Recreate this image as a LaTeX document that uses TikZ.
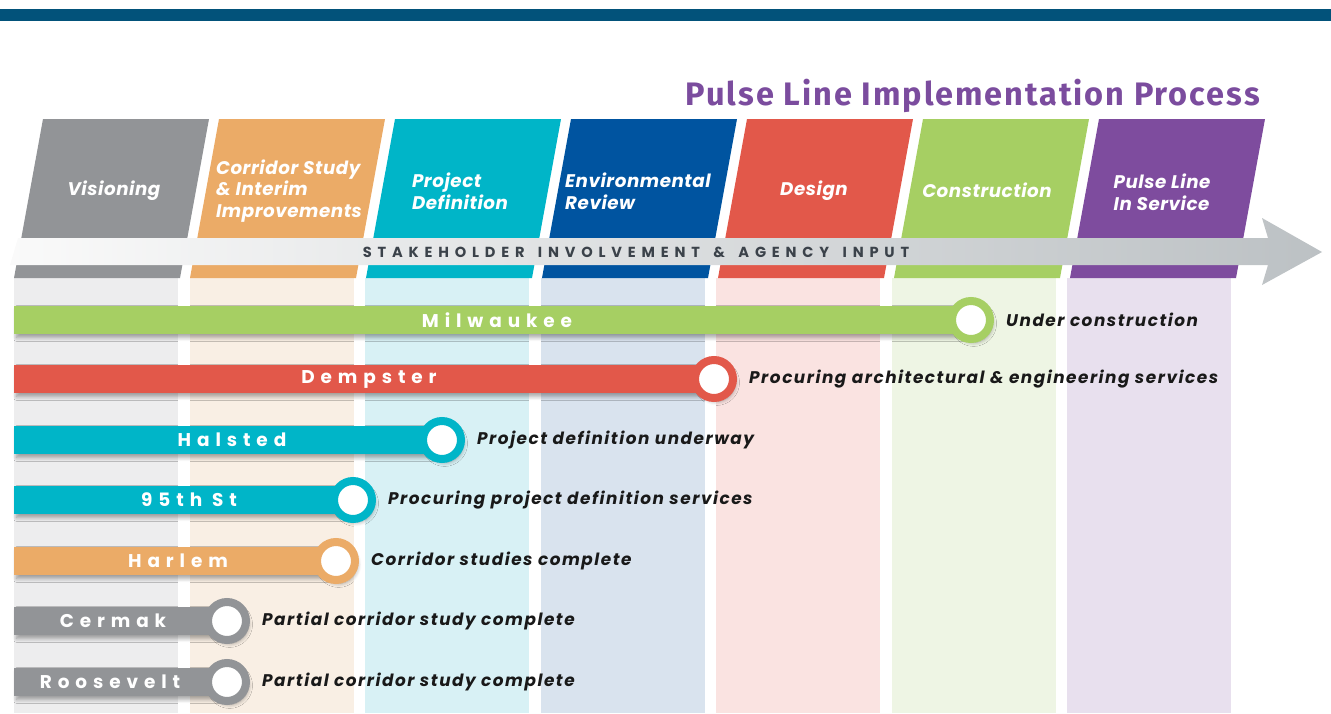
\documentclass[tikz,border=0pt]{standalone}
\usepackage{fontspec}
\usepackage{tikz}
\usetikzlibrary{positioning,shadows.blur}
\setmainfont{Poppins}
\newfontfamily\titlefont[LetterSpace=6]{Fira Sans}
\newfontfamily\barfont[LetterSpace=32]{Poppins}
\newfontfamily\bandfont[LetterSpace=40,WordSpace=1.5]{Poppins}
\newfontfamily\phasefont[LetterSpace=3]{Poppins}
\newfontfamily\statusfont[LetterSpace=9]{Poppins}

\definecolor{topbar}{HTML}{02527A}
\definecolor{ptitle}{HTML}{7B4C9E}
\definecolor{pgrey}{HTML}{929497}
\definecolor{porange}{HTML}{EBAB67}
\definecolor{pcyan}{HTML}{00B5C8}
\definecolor{pblue}{HTML}{0054A0}
\definecolor{pred}{HTML}{E2584A}
\definecolor{pgreen}{HTML}{A6CF63}
\definecolor{ppurple}{HTML}{7E4C9E}
\definecolor{tgrey}{HTML}{EDEDEE}
\definecolor{torange}{HTML}{F9EFE4}
\definecolor{tcyan}{HTML}{D8F1F5}
\definecolor{tblue}{HTML}{D9E3EE}
\definecolor{tred}{HTML}{FAE3E1}
\definecolor{tgreen}{HTML}{EEF5E4}
\definecolor{tpurple}{HTML}{E8E0EE}
\definecolor{bandtext}{HTML}{3B424A}
\definecolor{bandgrey}{HTML}{BCC1C4}

\begin{document}
\begin{tikzpicture}[x=0.02cm,y=-0.02cm,
    phase/.style={text=white,align=left,font=\phasefont\fontsize{10.4}{12.3}\selectfont\bfseries\itshape},
    barlbl/.style={text=white,font=\barfont\fontsize{10.5}{12}\selectfont\bfseries},
    status/.style={text=black!90,anchor=west,font=\statusfont\fontsize{9.6}{11}\selectfont\itshape\bfseries},
    barshadow/.style={blur shadow={shadow xshift=1.5pt,shadow yshift=-2pt,shadow blur steps=6,shadow opacity=35}},
    ring/.style={circle,fill=white,draw=#1,line width=0.16cm,minimum size=0.76cm,inner sep=0pt,barshadow}]
  \useasboundingbox (0,0) rectangle (1331,713);
  \def\slant{29} % horizontal shift of a phase over its height
  % Top bar and title
  \fill[topbar] (0,9) rectangle (1331,21);
  \node[anchor=base east,text=ptitle,font=\titlefont\fontsize{18.5}{21}\selectfont\bfseries] (title) at (1266,106) {Pulse Line Implementation Process};
  % Phases with their tinted columns
  \foreach \i/\col/\tint in {0/pgrey/tgrey,1/porange/torange,2/pcyan/tcyan,3/pblue/tblue,4/pred/tred,5/pgreen/tgreen,6/ppurple/tpurple} {
    \fill[\tint] (14+175.5*\i,278) rectangle (178+175.5*\i,713);
    \fill[\col] (43+176*\i,119) -- (209+176*\i,119) -- (209-\slant+176*\i,278) -- (43-\slant+176*\i,278) -- cycle;
  }
  \node[phase] (vis) at (114,191) {Visioning};
  \node[phase] (cor) at (289,191) {Corridor Study\\\& Interim\\Improvements};
  \node[phase] (def) at (460,191) {Project\\Definition};
  \node[phase] (env) at (638,191) {Environmental\\Review};
  \node[phase] (des) at (814,191) {Design};
  \node[phase] (con) at (987,190) {Construction};
  \node[phase] (svc) at (1162,192) {Pulse Line\\In Service};
  % Stakeholder arrow
  \shade[left color=white!96!gray,middle color=bandgrey!85!white,right color=bandgrey]
    (10,265) -- (18,238) -- (1268,238) -- (1262,218) -- (1322,252) -- (1262,285) -- (1268,265) -- cycle;
  \node[text=bandtext,font=\bandfont\fontsize{8.3}{10}\selectfont\bfseries] (band) at (636,252) {STAKEHOLDER INVOLVEMENT \& AGENCY INPUT};
  % Corridor progress bars: name/y/end/colour/label x/label/status
  \foreach \nm/\yy/\xe/\col/\xm/\lbl/\st in {
      mil/320/971/pgreen/497/Milwaukee/Under construction,
      dem/379/714/pred/369/Dempster/Procuring architectural \& engineering services,
      hal/440/442/pcyan/232/Halsted/Project definition underway,
      nfs/500/353/pcyan/189/95th St/Procuring project definition services,
      har/561/336/porange/178/Harlem/Corridor studies complete,
      cer/621/227/pgrey/113/Cermak/Partial corridor study complete,
      roo/682/227/pgrey/110/Roosevelt/Partial corridor study complete} {
    \fill[\col,barshadow] (14,\yy-14) rectangle (\xe,\yy+14);
    \node[ring=\col] (\nm-end) at (\xe,\yy) {};
    \node[barlbl] (\nm-lbl) at (\xm,\yy) {\lbl};
    \node[status,right=0.12cm of \nm-end] (\nm-st) {\st};
  }
\end{tikzpicture}
\end{document}
